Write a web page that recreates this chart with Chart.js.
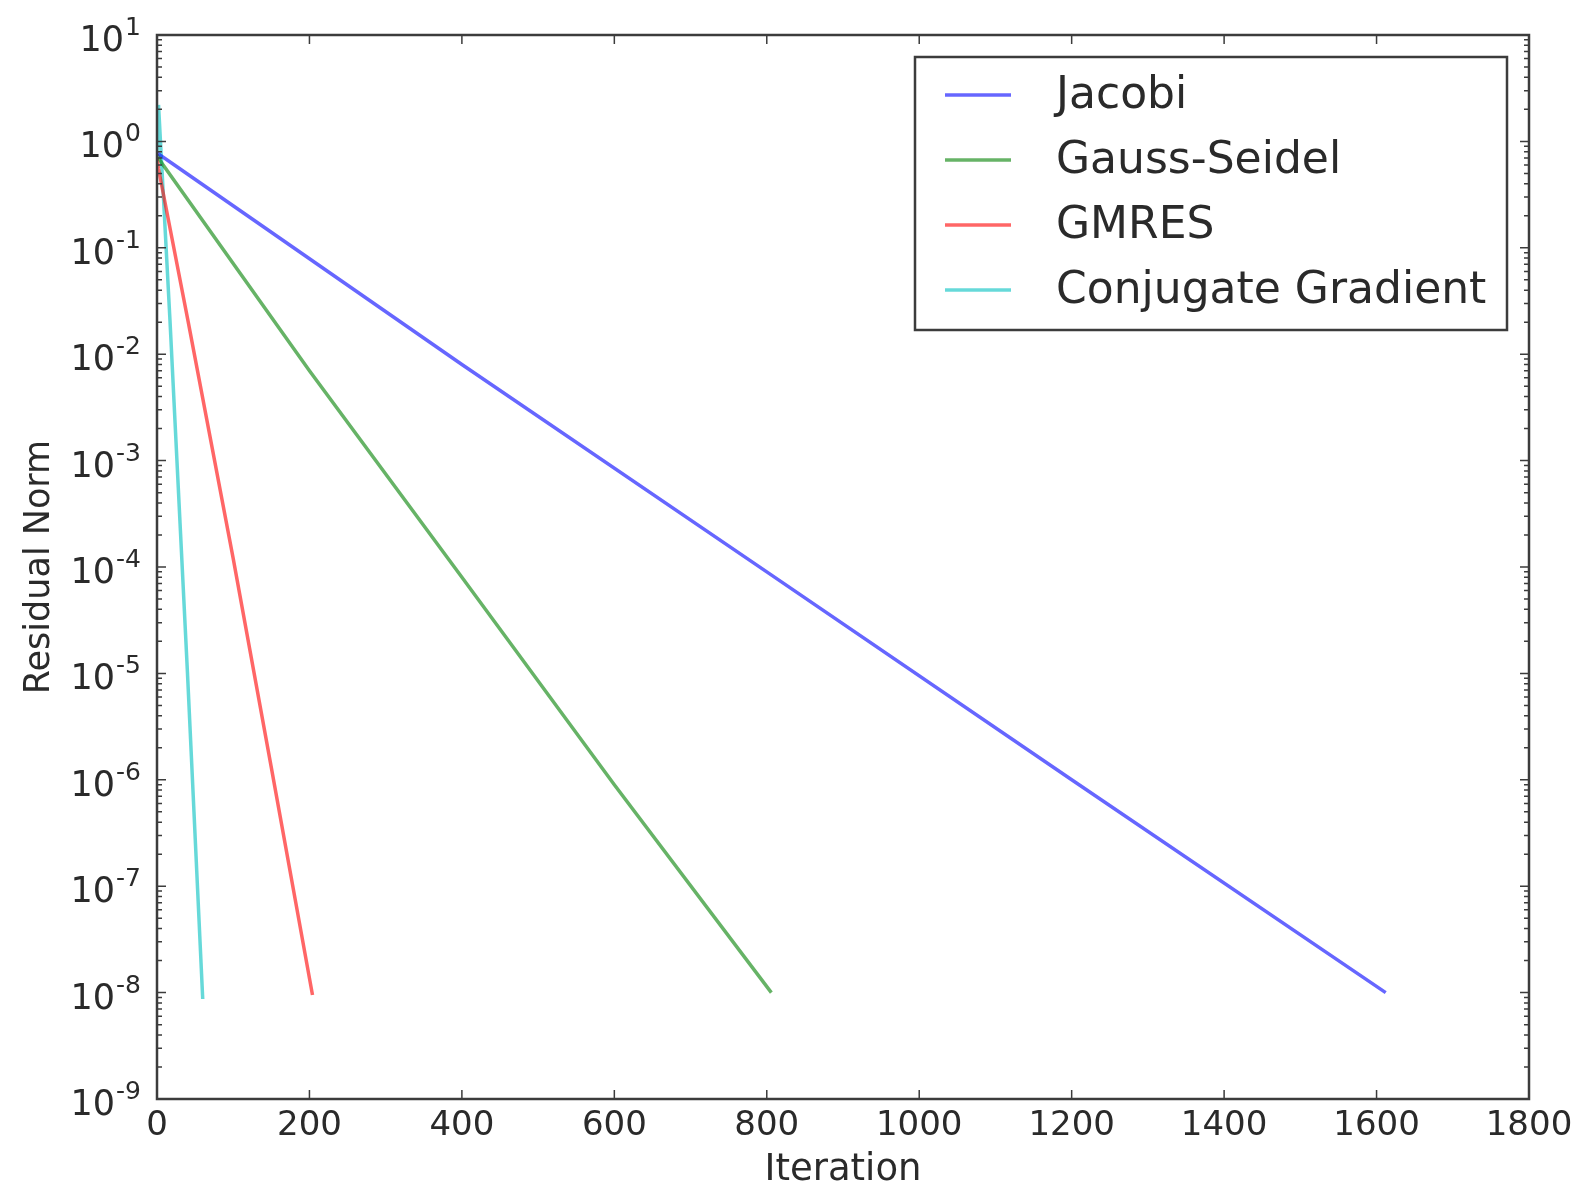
<!DOCTYPE html>
<html>
<head>
<meta charset="utf-8">
<script src="https://cdn.jsdelivr.net/npm/chart.js@4/dist/chart.umd.min.js"></script>
<style>
html,body{margin:0;padding:0;background:#fff;}
canvas{display:block;}
</style>
</head>
<body>
<canvas id="c" width="1582" height="1189"></canvas>
<script>
// ---- data ----
const seriesNames = ['Jacobi', 'Gauss-Seidel', 'GMRES', 'Conjugate Gradient'];
const jacobiIter = [0, 20, 400, 800, 1200, 1612];
const jacobiRes  = [0.78, 0.62, 8e-3, 9e-5, 1e-6, 1e-8];
const gaussIter  = [0, 6, 200, 400, 600, 806];
const gaussRes   = [0.75, 0.63, 7e-3, 8e-5, 9e-7, 1e-8];
const gmresIter  = [0, 2, 41, 100, 150, 204];
const gmresRes   = [0.7, 0.55, 2e-2, 1.2e-4, 1.3e-6, 9.5e-9];
const cgIter     = [0, 2, 17, 40, 60];
const cgRes      = [0.8, 2.2, 2.1e-2, 1e-5, 8.7e-9];
const xTickValues = [0, 200, 400, 600, 800, 1000, 1200, 1400, 1600, 1800];
const yTickValues = [1e-9, 1e-8, 1e-7, 1e-6, 1e-5, 1e-4, 1e-3, 1e-2, 1e-1, 1e0, 1e1];
const yTickBase = '10';
const yTickExponents = ['-9', '-8', '-7', '-6', '-5', '-4', '-3', '-2', '-1', '0', '1'];
const seriesColors = ['rgba(0,0,255,0.6)', 'rgba(0,128,0,0.6)', 'rgba(255,0,0,0.6)', 'rgba(0,191,191,0.6)'];

const toXY = (xs, ys) => xs.map((x, i) => ({x: x, y: ys[i]}));
const seriesData = [toXY(jacobiIter, jacobiRes), toXY(gaussIter, gaussRes), toXY(gmresIter, gmresRes), toXY(cgIter, cgRes)];

const FONT = 'DejaVu Sans';
const FRAME = '#3c3c3c';
const TEXT = '#2a2a2a';

const framePlugin = {
  id: 'framePlugin',
  afterDatasetsDraw(chart) {
    const ctx = chart.ctx, a = chart.chartArea;
    const xs = chart.scales.x, ys = chart.scales.y;
    ctx.save();
    ctx.strokeStyle = FRAME;
    ctx.lineWidth = 1.5;
    // x ticks top and bottom
    xTickValues.forEach(v => {
      const px = xs.getPixelForValue(v);
      ctx.beginPath();
      ctx.moveTo(px, a.bottom); ctx.lineTo(px, a.bottom - 9);
      ctx.moveTo(px, a.top); ctx.lineTo(px, a.top + 9);
      ctx.stroke();
    });
    // y major & minor ticks left and right, plus tick labels
    yTickValues.forEach((v, i) => {
      const py = ys.getPixelForValue(v);
      ctx.strokeStyle = FRAME;
      ctx.lineWidth = 1.5;
      ctx.beginPath();
      ctx.moveTo(a.left, py); ctx.lineTo(a.left + 9, py);
      ctx.moveTo(a.right, py); ctx.lineTo(a.right - 9, py);
      ctx.stroke();
      if (i < yTickValues.length - 1) {
        for (let m = 2; m <= 9; m++) {
          const pm = ys.getPixelForValue(v * m);
          ctx.beginPath();
          ctx.moveTo(a.left, pm); ctx.lineTo(a.left + 5, pm);
          ctx.moveTo(a.right, pm); ctx.lineTo(a.right - 5, pm);
          ctx.stroke();
        }
      }
      // label: base + superscript exponent, right-aligned
      const rightEdge = a.left - 16;
      ctx.fillStyle = TEXT;
      ctx.textBaseline = 'alphabetic';
      ctx.textAlign = 'right';
      ctx.font = '25px "' + FONT + '"';
      const expW = ctx.measureText(yTickExponents[i]).width;
      ctx.fillText(yTickExponents[i], rightEdge, py);
      ctx.font = '35px "' + FONT + '"';
      ctx.fillText(yTickBase, rightEdge - expW - 1, py + 16);
    });
    // frame
    ctx.lineWidth = 2.5;
    ctx.strokeStyle = FRAME;
    ctx.strokeRect(a.left, a.top, a.right - a.left, a.bottom - a.top);

    // legend box
    const lx = 915, ly = 57, lw = 592, lh = 273;
    ctx.fillStyle = '#fff';
    ctx.fillRect(lx, ly, lw, lh);
    ctx.lineWidth = 2.5;
    ctx.strokeStyle = FRAME;
    ctx.strokeRect(lx, ly, lw, lh);
    ctx.font = '44px "' + FONT + '"';
    ctx.textBaseline = 'middle';
    ctx.textAlign = 'left';
    chart.data.datasets.forEach((ds, i) => {
      const cy = 95 + i * 65;
      ctx.strokeStyle = ds.borderColor;
      ctx.lineWidth = 3.5;
      ctx.beginPath();
      ctx.moveTo(945, cy); ctx.lineTo(1011, cy);
      ctx.stroke();
      ctx.fillStyle = TEXT;
      ctx.fillText(ds.label, 1056, cy + 2);
    });
    ctx.restore();
  }
};

new Chart(document.getElementById('c'), {
  type: 'line',
  data: {
    datasets: seriesNames.map((n, i) => ({
      label: n,
      data: seriesData[i],
      borderColor: seriesColors[i],
      backgroundColor: seriesColors[i],
      borderWidth: 3.5,
      pointRadius: 0,
      fill: false,
      tension: 0
    }))
  },
  options: {
    responsive: false,
    animation: false,
    layout: {padding: {left: 0, right: 53, top: 35, bottom: 0}},
    plugins: {legend: {display: false}, tooltip: {enabled: false}},
    scales: {
      x: {
        type: 'linear',
        min: 0, max: 1800,
        grid: {display: false},
        border: {display: false},
        afterBuildTicks: s => { s.ticks = xTickValues.map(v => ({value: v})); },
        afterFit: s => { s.height = 90; },
        ticks: {
          color: TEXT, padding: -1,
          font: {family: FONT, size: 34},
          maxRotation: 0,
          callback: v => String(v)
        },
        title: {display: true, text: 'Iteration', color: TEXT, font: {family: FONT, size: 37, lineHeight: 1.0}, padding: {top: 0, bottom: 0}}
      },
      y: {
        type: 'logarithmic',
        min: 1e-9, max: 10,
        grid: {display: false},
        border: {display: false},
        afterBuildTicks: s => { s.ticks = yTickValues.map(v => ({value: v})); },
        afterFit: s => { s.width = 157; },
        ticks: { display: false },
        title: {display: true, text: 'Residual Norm', color: TEXT, font: {family: FONT, size: 35}, padding: {top: 19, bottom: 0}}
      }
    }
  },
  plugins: [framePlugin]
});
</script>
</body>
</html>
